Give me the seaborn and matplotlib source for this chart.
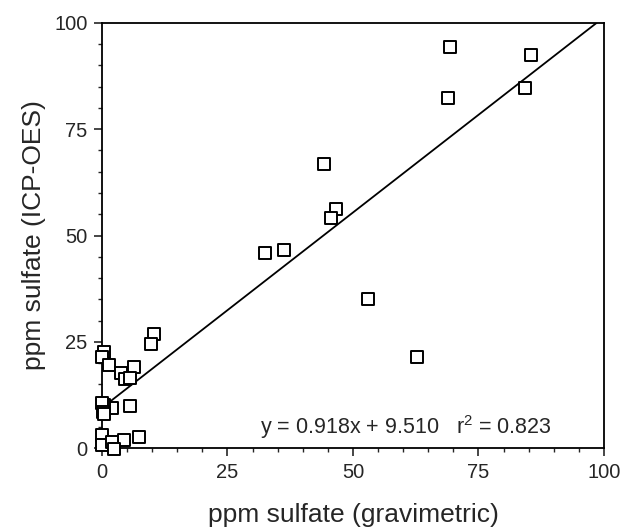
import numpy as np
import seaborn as sns
import pandas as pd
import matplotlib.pyplot as plt
from matplotlib.ticker import MultipleLocator

#------------------------------------------------------------------------------#
# sulfate values: gravimetric (x) vs ICP-OES (y), in ppm
#------------------------------------------------------------------------------#

grav = [69.3, 85.5, 68.9, 84.3, 44.3, 46.7, 45.7, 32.5, 36.3, 52.9, 62.7,
        10.3, 9.7, 0.5, 0.0, 1.3, 3.7, 6.3, 4.6, 5.6,
        5.5, 2.0, 0.5, 0.0, 0.2, 0.5,
        7.3, 4.3, 0.0, 0.0, 1.9, 2.3]
icp  = [94.3, 92.5, 82.4, 84.6, 66.8, 56.3, 54.1, 45.8, 46.6, 35.2, 21.5,
        26.9, 24.5, 22.7, 21.5, 19.6, 17.6, 19.2, 16.3, 16.6,
        9.9, 9.4, 10.2, 10.6, 8.5, 8.0,
        2.7, 2.0, 3.1, 0.8, 1.4, -0.2]

# linear fit reported on the figure
slope     = 0.918
intercept = 9.510
r_sq      = 0.823

x_ticks = [0, 25, 50, 75, 100]
y_ticks = [0, 25, 50, 75, 100]

#------------------------------------------------------------------------------#

def main():

    sns.set_style("ticks")
    plt.rcParams['font.family'] = ['Liberation Sans', 'DejaVu Sans']
    plt.rcParams['mathtext.fontset'] = 'custom'
    plt.rcParams['mathtext.rm'] = 'Liberation Sans'
    plt.rcParams['mathtext.default'] = 'regular'

    DF = pd.DataFrame({'grav': grav, 'icp': icp})

    fig = plt.figure(figsize=(6.23, 5.32), dpi=100)
    ax = fig.add_axes([0.1637, 0.1573, 0.8058, 0.8000])

    # fit line, clipped where it reaches the top of the plot
    x_end = (100 - intercept) / slope
    ax.plot([0, x_end], [intercept, slope * x_end + intercept],
            color='black', lw=1.3, zorder=2)

    sns.scatterplot(data=DF, x='grav', y='icp', marker='s', s=80,
                    facecolor='white', edgecolor='black', linewidth=1.4,
                    clip_on=False, zorder=3, ax=ax)

    ax.text(31.5, 3.3, 'y = %.3fx + %.3f   r$^{2}$ = %.3f' % (slope, intercept, r_sq),
            fontsize=15.5, va='baseline', ha='left')

    ax.set_xlim(0, 100)
    ax.set_ylim(0, 100)
    ax.set_xticks(x_ticks)
    ax.set_yticks(y_ticks)
    ax.xaxis.set_minor_locator(MultipleLocator(5))
    ax.yaxis.set_minor_locator(MultipleLocator(5))
    ax.tick_params(which='major', length=6, width=1.2, pad=4.5,
                   labelsize=14.5, direction='out')
    ax.tick_params(which='minor', length=3, width=1.0, direction='out')

    for sp in ax.spines.values():
        sp.set_visible(True)
        sp.set_linewidth(1.3)
        sp.set_color('black')

    ax.set_xlabel('ppm sulfate (gravimetric)', fontsize=19, labelpad=15)
    ax.set_ylabel('ppm sulfate (ICP-OES)', fontsize=19, labelpad=6)

    plt.savefig('out.png', dpi=100)

if __name__ == '__main__':
    main()
